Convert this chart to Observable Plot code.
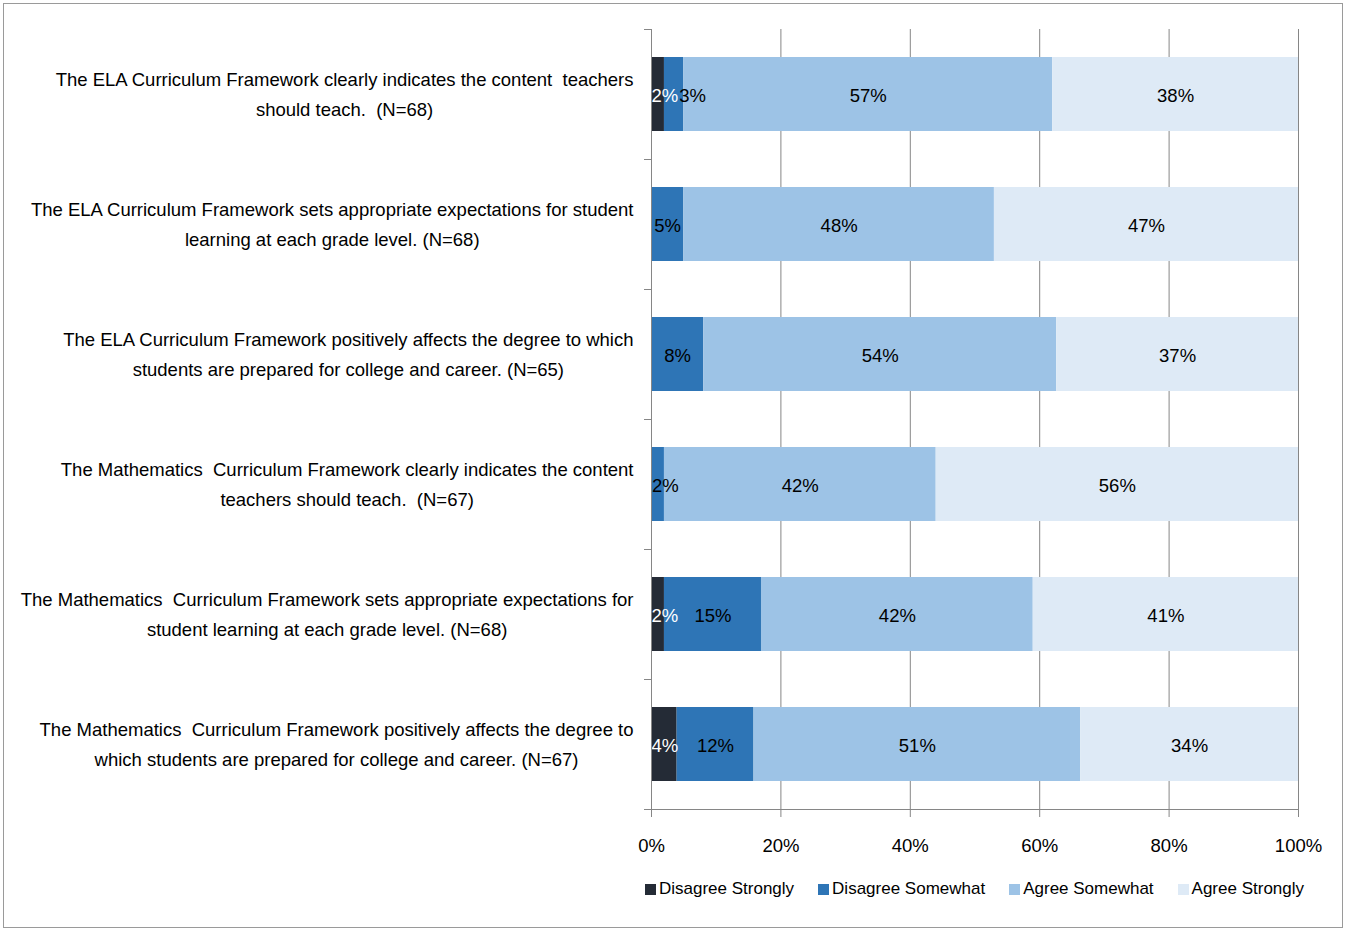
<!DOCTYPE html>
<html><head><meta charset="utf-8">
<script src="https://cdn.jsdelivr.net/npm/d3@7"></script>
<script src="https://cdn.jsdelivr.net/npm/@observablehq/plot@0.6"></script>
<style>
html,body{margin:0;padding:0;background:#fff;}
#wrap{position:relative;width:1345px;height:931px;overflow:hidden;}
#border{position:absolute;left:3px;top:3px;width:1338px;height:923px;border:1px solid #9a9a9a;pointer-events:none;}
#chart{position:absolute;left:0;top:0;}
#legend{position:absolute;left:651px;width:647px;top:879px;display:flex;justify-content:center;gap:24px;align-items:center;color:#000;}
.item{display:flex;align-items:center;gap:3px;white-space:nowrap;}
.sw{width:11px;height:11px;display:inline-block;}
</style></head><body><div id="wrap"><div id="chart"></div><div id="legend"></div><div id="border"></div></div>
<script>
const questions = [
  "The ELA Curriculum Framework clearly indicates the content  teachers\nshould teach.  (N=68)",
  "The ELA Curriculum Framework sets appropriate expectations for student\nlearning at each grade level. (N=68)",
  "The ELA Curriculum Framework positively affects the degree to which\nstudents are prepared for college and career. (N=65)",
  "The Mathematics  Curriculum Framework clearly indicates the content\nteachers should teach.  (N=67)",
  "The Mathematics  Curriculum Framework sets appropriate expectations for\nstudent learning at each grade level. (N=68)",
  "The Mathematics  Curriculum Framework positively affects the degree to\nwhich students are prepared for college and career. (N=67)"
];
const levels = ["Disagree Strongly", "Disagree Somewhat", "Agree Somewhat", "Agree Strongly"];
const disagreeStrongly = [2, 0, 0, 0, 2, 4];
const disagreeSomewhat = [3, 5, 8, 2, 15, 12];
const agreeSomewhat = [57, 48, 54, 42, 42, 51];
const agreeStrongly = [38, 47, 37, 56, 41, 34];
const levelColors = ["#242b36", "#2e75b6", "#9dc3e6", "#deeaf6"];
const xTicks = [0, 0.2, 0.4, 0.6, 0.8, 1];

const series = [disagreeStrongly, disagreeSomewhat, agreeSomewhat, agreeStrongly];
const rows = [];
levels.forEach((lev, j) => questions.forEach((q, i) => rows.push({question: q, level: lev, li: j, value: series[j][i]})));

function hasFont(name) {
  const c = document.createElement("canvas").getContext("2d");
  const s = "The ELA Curriculum Framework 0123456789%";
  c.font = "20px monospace"; const a = c.measureText(s).width;
  c.font = `20px "${name}", monospace`; const b = c.measureText(s).width;
  return Math.abs(a - b) > 0.5;
}
const narrow = hasFont("Liberation Sans Narrow");
const FONT = narrow ? '"Liberation Sans Narrow", "Liberation Sans", sans-serif' : '"Liberation Sans", sans-serif';
const FS = narrow ? 20 : 18.5;
const LFS = narrow ? 20 : 17;
const GRID = "#868686";
const PAD = 0.43;
const WHITE_LABEL = "#ffffff";

function bandFrame(index, scales) {
  const y = scales.y, x = scales.x;
  const step = y(questions[1]) - y(questions[0]);
  let bw = typeof y.bandwidth === "function" ? y.bandwidth() : y.bandwidth;
  if (bw == null || isNaN(bw)) bw = step * (1 - PAD);
  const gap = (step - bw) / 2;
  const ys = questions.map(q => y(q) - gap).concat([y(questions[questions.length - 1]) + bw + gap]);
  const x0 = x(0), x1 = x(1);
  const g = d3.create("svg:g").attr("stroke", GRID).attr("fill", "none").attr("shape-rendering", "crispEdges").attr("data-role", "frame");
  g.selectAll("line.t").data(ys).join("line").attr("class", "t")
    .attr("x1", x0 - 7).attr("x2", x0).attr("y1", d => d).attr("y2", d => d);
  g.append("line").attr("x1", x0 - 7).attr("x2", x1).attr("y1", ys[ys.length - 1]).attr("y2", ys[ys.length - 1]);
  g.append("line").attr("class", "yaxis").attr("x1", x0).attr("x2", x0).attr("y1", ys[0]).attr("y2", ys[ys.length - 1] + 7);
  return g.node();
}

const stackOpts = {x: "value", y: "question", z: "level", order: levels, offset: "normalize"};

const chart = Plot.plot({
  width: 1345,
  height: 862,
  marginLeft: 651,
  marginRight: 47,
  marginTop: 29,
  marginBottom: 52,
  style: {fontFamily: FONT, fontSize: FS + "px", color: "#000", background: "transparent"},
  x: {domain: [0, 1]},
  y: {domain: questions, paddingInner: PAD, paddingOuter: PAD / 2},
  color: {domain: levels, range: levelColors},
  marks: [
    Plot.ruleX(xTicks.slice(1), {stroke: GRID, strokeWidth: 1}),
    Plot.barX(rows, Plot.stackX({...stackOpts, fill: "level"})),
    Plot.text(rows, Plot.stackX({...stackOpts, text: d => (d.li > 0 && d.value > 0) ? d.value + "%" : null, fill: "#000000", fontSize: FS, dy: 2})),
    Plot.text(rows, Plot.stackX1({...stackOpts, text: d => (d.li === 0 && d.value > 0) ? d.value + "%" : null, fill: WHITE_LABEL, textAnchor: "start", fontSize: FS, dy: 2})),
    bandFrame,
    Plot.axisX(xTicks, {tickFormat: d3.format(".0%"), tickSize: 7, tickPadding: 21, stroke: GRID, fill: "#000", label: null, fontSize: FS}),
    Plot.axisY({tickSize: 0, tickPadding: 18, label: null, lineHeight: 1.62, fill: "#000", fontSize: FS, textOverflow: null, lineWidth: Infinity, dy: -3})
  ]
});
document.getElementById("chart").append(chart);

// centre each line of a category label within its own block (block right-aligned at the axis)
chart.querySelectorAll('g[aria-label="y-axis tick label"] text').forEach(t => {
  const spans = t.querySelectorAll("tspan");
  if (!spans.length) return;
  const w = Math.max(...Array.from(spans, s => s.getComputedTextLength()));
  t.setAttribute("text-anchor", "middle");
  spans.forEach(s => s.setAttribute("x", -w / 2));
});

// keep data labels inside the plot area and clear of the leading (white) label, as the original does
const yAxisLine = chart.querySelector('g[data-role="frame"] line.yaxis');
const plotLeft = yAxisLine ? yAxisLine.getBoundingClientRect().left : 0;
const dataTexts = Array.from(chart.querySelectorAll('g[aria-label="text"] text')).filter(t => t.textContent);
const isWhite = t => getComputedStyle(t).fill.replace(/\s/g, "") === "rgb(255,255,255)";
const startTexts = dataTexts.filter(isWhite);
const midTexts = dataTexts.filter(t => !isWhite(t));
const addDx = (el, v) => el.setAttribute("dx", (parseFloat(el.getAttribute("dx")) || 0) + v);
midTexts.forEach(m => {
  const b = m.getBoundingClientRect();
  if (b.left < plotLeft) addDx(m, plotLeft - b.left + 1);
});
startTexts.forEach(s => {
  const a = s.getBoundingClientRect();
  midTexts.forEach(m => {
    const b = m.getBoundingClientRect();
    const sameRow = Math.abs((a.top + a.bottom) / 2 - (b.top + b.bottom) / 2) < 5;
    if (sameRow && b.left < a.right && b.right > a.left) addDx(m, a.right - b.left + 1);
  });
});

const legend = d3.select("#legend").style("font-family", FONT).style("font-size", LFS + "px");
levels.forEach((lev, j) => {
  const it = legend.append("div").attr("class", "item");
  it.append("span").attr("class", "sw").style("background", levelColors[j]);
  it.append("span").text(lev);
});
</script></body></html>
